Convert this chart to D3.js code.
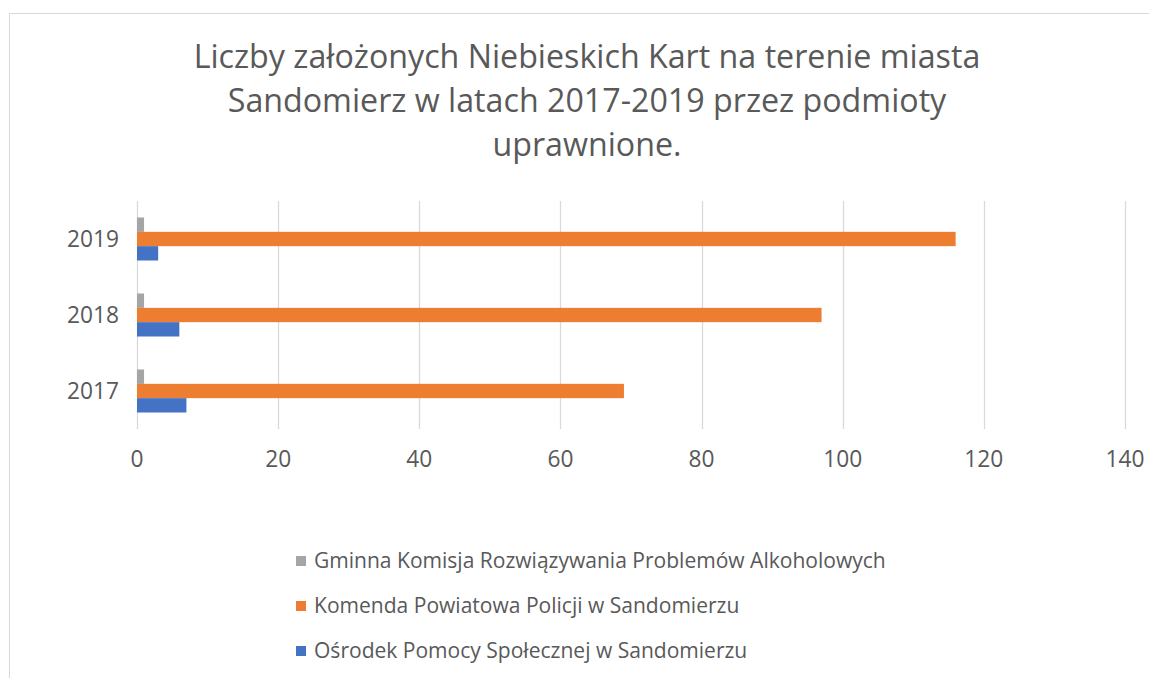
<!DOCTYPE html>
<html>
<head>
<meta charset="utf-8">
<script src="https://cdn.jsdelivr.net/npm/d3@7"></script>
<style>
  body { margin: 0; background: #fff; }
  svg { display: block; }
  text { font-family: "Open Sans", "Noto Sans", sans-serif; fill: #595959; }
</style>
</head>
<body>
<svg width="1149" height="678"></svg>
<script>
// data
var years = ["2019", "2018", "2017"];
var seriesNames = [
  "Gminna Komisja Rozwiązywania Problemów Alkoholowych",
  "Komenda Powiatowa Policji w Sandomierzu",
  "Ośrodek Pomocy Społecznej w Sandomierzu"
];
var gminna = [1, 1, 1];
var komenda = [116, 97, 69];
var osrodek = [3, 6, 7];
var xTicks = [0, 20, 40, 60, 80, 100, 120, 140];
var titleLines = [
  "Liczby założonych Niebieskich Kart na terenie miasta",
  "Sandomierz w latach 2017-2019 przez podmioty",
  "uprawnione."
];
var colors = ["#a5a5a5", "#ed7d31", "#4472c4"];
var seriesValues = [gminna, komenda, osrodek];

var svg = d3.select("svg");

// fits a font size so a text spans the wanted width
function fitSize(str, wanted, base) {
  var t = svg.append("text").attr("font-size", base).text(str);
  var w = t.node().getComputedTextLength();
  t.remove();
  return base * wanted / w;
}

// chart border
svg.append("path")
  .attr("d", "M9.5,678V13.5H1149")
  .attr("fill", "none")
  .attr("stroke", "#d9d9d9")
  .attr("stroke-width", 1);

// title
var titleSize = fitSize(titleLines[0], 787, 30);
svg.append("g")
  .selectAll("text")
  .data(titleLines)
  .enter()
  .append("text")
  .attr("x", 587)
  .attr("y", function (d, i) { return 68 + i * 44; })
  .attr("text-anchor", "middle")
  .attr("font-size", titleSize)
  .text(function (d) { return d; });

// scales
var x = d3.scaleLinear().domain([0, 140]).range([137, 1125]);
var y = d3.scaleBand().domain(years).range([201, 429])
  .paddingInner(0.434).paddingOuter(0.217);
var ySub = d3.scaleBand().domain(d3.range(seriesNames.length))
  .range([0, y.bandwidth()]);

var labelSize = fitSize("2019", 52, 18);

// gridlines
svg.append("g")
  .selectAll("line")
  .data(xTicks)
  .enter()
  .append("line")
  .attr("x1", function (d) { return Math.round(x(d)) + 0.5; })
  .attr("x2", function (d) { return Math.round(x(d)) + 0.5; })
  .attr("y1", 201)
  .attr("y2", 429)
  .attr("stroke", "#d9d9d9")
  .attr("stroke-width", 1.3);

// x tick labels
svg.append("g")
  .selectAll("text")
  .data(xTicks)
  .enter()
  .append("text")
  .attr("x", function (d) { return x(d); })
  .attr("y", 467)
  .attr("text-anchor", "middle")
  .attr("font-size", labelSize)
  .text(function (d) { return d; });

// y labels
svg.append("g")
  .selectAll("text")
  .data(years)
  .enter()
  .append("text")
  .attr("x", 119)
  .attr("y", function (d) { return y(d) + y.bandwidth() / 2; })
  .attr("dy", "0.35em")
  .attr("text-anchor", "end")
  .attr("font-size", labelSize)
  .text(function (d) { return d; });

// bars
svg.append("g")
  .selectAll("g")
  .data(seriesValues)
  .enter()
  .append("g")
  .attr("fill", function (d, i) { return colors[i]; })
  .each(function (vals, si) {
    d3.select(this)
      .selectAll("rect")
      .data(vals)
      .enter()
      .append("rect")
      .attr("x", x(0))
      .attr("y", function (d, i) { return y(years[i]) + ySub(si); })
      .attr("width", function (d) { return x(d) - x(0); })
      .attr("height", ySub.bandwidth());
  });

// legend
var legendSize = fitSize(seriesNames[0], 572, 18);
var legend = svg.append("g")
  .selectAll("g")
  .data(seriesNames)
  .enter()
  .append("g")
  .attr("transform", function (d, i) { return "translate(296," + (561 + i * 45) + ")"; });

legend.append("rect")
  .attr("x", 0)
  .attr("y", -5)
  .attr("width", 10)
  .attr("height", 10)
  .attr("fill", function (d, i) { return colors[i]; });

legend.append("text")
  .attr("x", 18)
  .attr("y", 0)
  .attr("dy", "0.35em")
  .attr("font-size", legendSize)
  .text(function (d) { return d; });
</script>
</body>
</html>
